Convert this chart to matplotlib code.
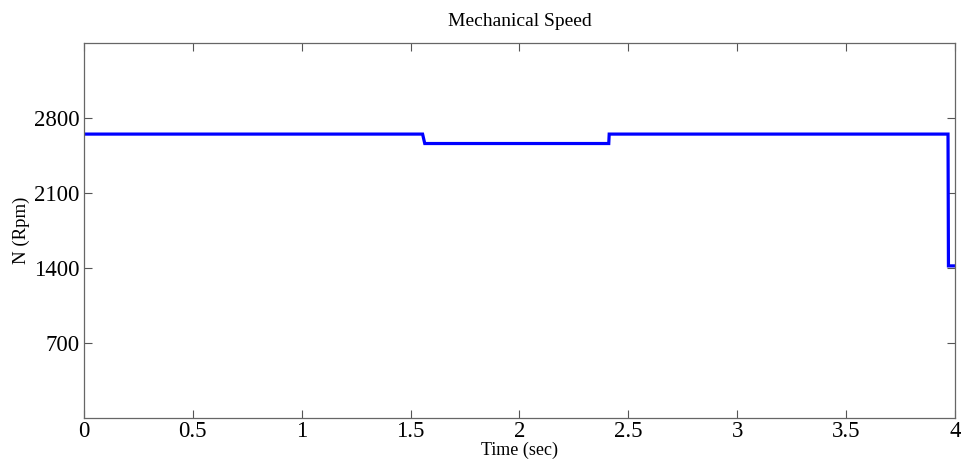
import matplotlib
matplotlib.use("Agg")
import matplotlib.pyplot as plt

# speed trace (rpm) against time (s), step changes under load
t_sec = [0.0, 1.555, 1.565, 2.41, 2.412, 3.968, 3.970, 4.0]
speed_rpm = [2650, 2650, 2562, 2562, 2650, 2650, 1420, 1420]

xticks = [0, 0.5, 1, 1.5, 2, 2.5, 3, 3.5, 4]
xticklabels = ["0", "0.5", "1", "1.5", "2", "2.5", "3", "3.5", "4"]
yticks = [700, 1400, 2100, 2800]

plt.rcParams["font.family"] = ["Liberation Serif", "DejaVu Serif"]

fig = plt.figure(figsize=(9.62, 4.65), dpi=100)
ax = fig.add_axes([0.0873, 0.101, 0.9054, 0.8065])

ax.plot(t_sec, speed_rpm, color="#0000ff", linewidth=2.3, solid_joinstyle="miter")

ax.set_xlim(0, 4)
ax.set_ylim(0, 3500)
ax.set_xticks(xticks)
ax.set_xticklabels(xticklabels)
ax.set_yticks(yticks)

ax.tick_params(direction="in", length=6, width=0.8, color="#555555",
               top=True, right=True, labelsize=16.5, pad=3)
ax.tick_params(axis="x", pad=2)
for sp in ax.spines.values():
    sp.set_color("#666666")
    sp.set_linewidth(0.9)

ax.set_title("Mechanical Speed", fontsize=14, pad=12)
ax.set_xlabel("Time (sec)", fontsize=13, labelpad=0)
ax.set_ylabel("N (Rpm)", fontsize=13.5, labelpad=3)

fig.savefig("out.png", dpi=100)
